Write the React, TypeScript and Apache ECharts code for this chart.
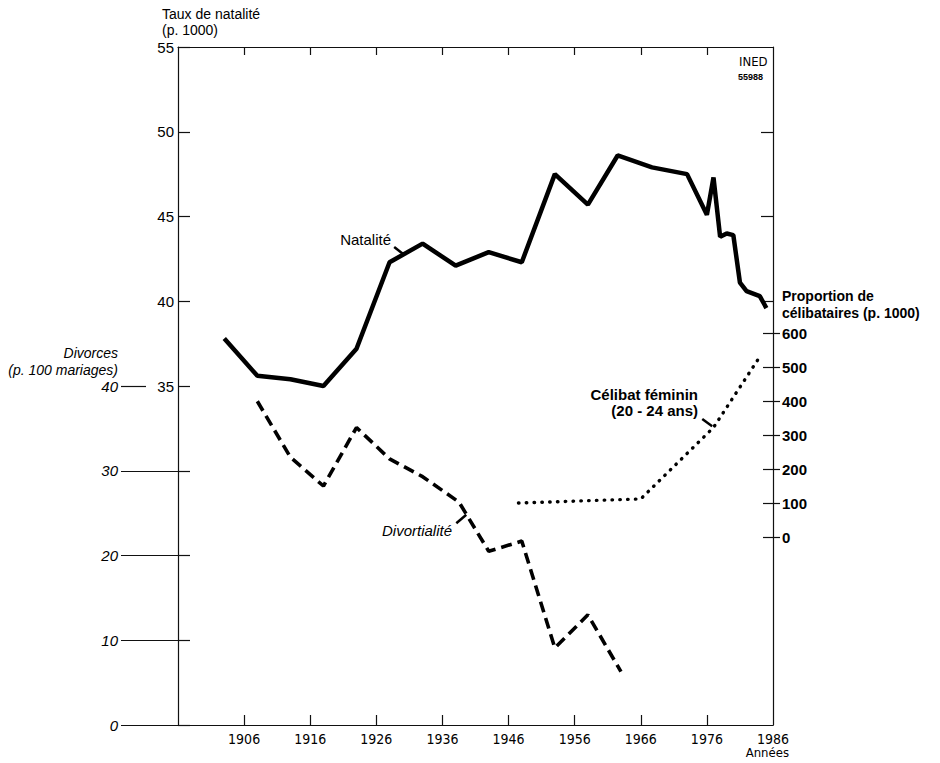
import React, { useEffect, useRef } from "react";
import * as echarts from "echarts";

// Natalité (p. 1000) — [année, taux]
const natYears = [1903, 1908, 1913, 1918, 1923, 1928, 1933, 1938, 1943, 1948, 1953, 1958, 1962.5, 1967.7, 1973, 1976, 1977, 1978, 1979, 1980, 1981, 1982, 1984, 1985];
const natValues = [37.8, 35.6, 35.4, 35.0, 37.2, 42.3, 43.4, 42.1, 42.9, 42.3, 47.5, 45.7, 48.6, 47.9, 47.5, 45.1, 47.3, 43.8, 44.0, 43.9, 41.1, 40.6, 40.3, 39.6];

// Divortialité (p. 100 mariages)
const divYears = [1908, 1913, 1918, 1923, 1928, 1933, 1938.5, 1943, 1948, 1953, 1958, 1963];
const divValues = [38.2, 31.6, 28.2, 35.1, 31.4, 29.3, 26.3, 20.5, 21.7, 9.1, 13.0, 6.3];

// Célibat féminin 20-24 ans (p. 1000)
const celYears = [1947.5, 1966, 1977, 1984];
const celValues = [100, 112, 322, 530];

const yearTicks = [1906, 1916, 1926, 1936, 1946, 1956, 1966, 1976];
const yearLabels = [1906, 1916, 1926, 1936, 1946, 1956, 1966, 1976, 1986];
const natLabels = [35, 40, 45, 50, 55];
const natTicksLeft = [15, 20, 25, 30, 35, 40, 45, 50, 55];
const natTicksRight = [40, 45, 50];
const divLabels = [0, 10, 20, 30, 40];
const divLongTicks = [0, 10, 20, 30];
const celTicks = [0, 100, 200, 300, 400, 500, 600];

// Leader marks for the curve labels (data coordinates)
const natPointer = [[1928.7, 43.2], [1930.0, 42.8]];
const divPointer = [[1938.1, 23.8], [1939.6, 24.8]];
const celPointer = [[1975.3, 347], [1976.8, 326]];

const FONT = "'Liberation Sans', Arial, Helvetica, sans-serif";
const NARROW = "'Liberation Sans Narrow', 'DejaVu Sans Condensed', 'Liberation Sans', sans-serif";

const pairs = (xs: number[], ys: number[]) => xs.map((x, i) => [x, ys[i]]);
const plain = (v: number) => String(v);

const pointerMark = (p: number[][]) => ({
  silent: true,
  symbol: ["none", "none"],
  label: { show: false },
  lineStyle: { color: "#000", width: 2.5, type: "solid" },
  data: [[{ coord: p[0] }, { coord: p[1] }]],
});

const t = (text: string, pos: any, size: number, extra: any = {}) => ({
  text,
  ...pos,
  padding: 0,
  textStyle: { fontSize: size, fontWeight: "normal", fontFamily: FONT, color: "#000", lineHeight: size + 2, ...extra },
});

export default function App() {
  const ref = useRef<HTMLDivElement>(null);
  useEffect(() => {
    if (!ref.current) return;
    const chart = echarts.init(ref.current, null, { renderer: "svg" });
    const ls = () => ({ color: "#111", width: 1.2 });
    chart.setOption({
      animation: false,
      textStyle: { fontFamily: FONT, color: "#000" },
      title: [
        t("Taux de natalité", { left: 162, top: 6 }, 14),
        t("(p. 1000)", { left: 162, top: 22 }, 14),
        t("Divorces", { right: 822, top: 345 }, 14, { fontStyle: "italic" }),
        t("(p. 100 mariages)", { right: 822, top: 362 }, 14, { fontStyle: "italic" }),
        t("Proportion de", { left: 782, top: 288 }, 14, { fontWeight: "bold" }),
        t("célibataires (p. 1000)", { left: 782, top: 305 }, 14, { fontWeight: "bold" }),
        t("Années", { right: 151, top: 745 }, 13, { fontFamily: NARROW }),
        t("INED", { left: 739, top: 54 }, 13, { fontFamily: NARROW }),
        t("55988", { left: 738, top: 71 }, 9, { fontWeight: "bold" }),
        t("Natalité", { right: 549, top: 231 }, 15),
        t("Divortialité", { right: 488, top: 522 }, 15, { fontStyle: "italic" }),
        t("Célibat féminin", { right: 242, top: 386 }, 15, { fontWeight: "bold" }),
        t("(20 - 24 ans)", { right: 242, top: 402 }, 15, { fontWeight: "bold" }),
      ],
      grid: [
        { left: 178, right: 167, top: 47, bottom: 38 },
        { left: 178, right: 167, top: 333, bottom: 226 },
      ],
      xAxis: [
        {
          gridIndex: 0, type: "value", position: "bottom", min: 1896, max: 1986,
          axisLine: { show: true, onZero: false, lineStyle: ls() },
          axisTick: { show: true, inside: true, length: 10, customValues: yearTicks, lineStyle: ls() },
          axisLabel: { customValues: yearLabels, formatter: plain, margin: 7, fontSize: 14, fontFamily: NARROW, color: "#000" },
          splitLine: { show: false },
        },
        {
          gridIndex: 0, type: "value", position: "top", min: 1896, max: 1986,
          axisLine: { show: true, onZero: false, lineStyle: ls() },
          axisTick: { show: true, inside: true, length: 8, customValues: yearTicks, lineStyle: ls() },
          axisLabel: { show: false },
          splitLine: { show: false },
        },
        { gridIndex: 1, type: "value", min: 1896, max: 1986, show: false },
      ],
      yAxis: [
        {
          gridIndex: 0, type: "value", position: "left", min: 15, max: 55,
          axisLine: { show: true, onZero: false, lineStyle: ls() },
          axisTick: { show: true, inside: true, length: 12, customValues: natTicksLeft, lineStyle: ls() },
          axisLabel: { customValues: natLabels, margin: 4, fontSize: 15, color: "#000" },
          splitLine: { show: false },
        },
        {
          gridIndex: 0, type: "value", position: "left", offset: 0, min: 0, max: 80,
          axisLine: { show: false },
          axisTick: { show: true, length: 57, customValues: divLongTicks, lineStyle: ls() },
          axisLabel: { customValues: divLabels, margin: 60, fontSize: 15, fontStyle: "italic", color: "#000" },
          splitLine: { show: false },
        },
        {
          gridIndex: 0, type: "value", position: "left", offset: 32, min: 0, max: 80,
          axisLine: { show: false },
          axisTick: { show: true, length: 25, customValues: [40], lineStyle: ls() },
          axisLabel: { show: false },
          splitLine: { show: false },
        },
        {
          gridIndex: 0, type: "value", position: "right", min: 15, max: 55,
          axisLine: { show: true, onZero: false, lineStyle: ls() },
          axisTick: { show: true, inside: true, length: 12, customValues: natTicksRight, lineStyle: ls() },
          axisLabel: { show: false },
          splitLine: { show: false },
        },
        {
          gridIndex: 1, type: "value", position: "right", offset: 7, min: 0, max: 600,
          axisLine: { show: false },
          axisTick: { show: true, inside: true, length: 17, customValues: celTicks, lineStyle: ls() },
          axisLabel: { customValues: celTicks, margin: 2, fontSize: 15, fontWeight: "bold", color: "#000" },
          splitLine: { show: false },
        },
      ],
      series: [
        {
          name: "Natalité", type: "line", xAxisIndex: 0, yAxisIndex: 0,
          data: pairs(natYears, natValues), symbol: "none",
          lineStyle: { color: "#000", width: 4.5 },
          markLine: pointerMark(natPointer),
        },
        {
          name: "Divortialité", type: "line", xAxisIndex: 0, yAxisIndex: 1,
          data: pairs(divYears, divValues), symbol: "none",
          lineStyle: { color: "#000", width: 3.6, type: [11, 6] },
          markLine: pointerMark(divPointer),
        },
        {
          name: "Célibat féminin", type: "line", xAxisIndex: 2, yAxisIndex: 4,
          data: pairs(celYears, celValues), symbol: "none",
          lineStyle: { color: "#000", width: 3.4, type: [0.5, 7.3], cap: "round" },
          markLine: pointerMark(celPointer),
        },
      ],
    });
    return () => chart.dispose();
  }, []);
  return (
    <div
      ref={ref}
      style={{ position: "fixed", left: 0, top: 0, width: 940, height: 763, background: "#fff" }}
    />
  );
}
